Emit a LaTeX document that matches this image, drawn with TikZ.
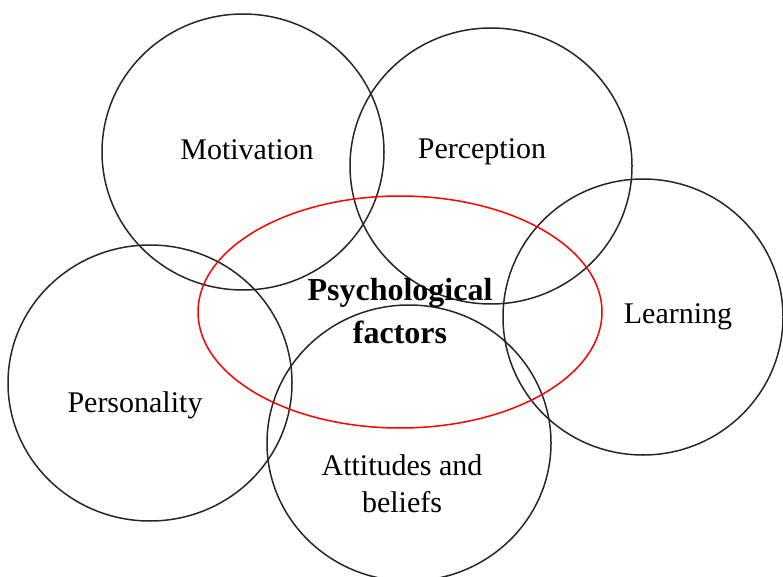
\documentclass[tikz,border=0pt]{standalone}
\usepackage{fontspec}
\setmainfont{Liberation Serif}
\begin{document}
\begin{tikzpicture}[x=1pt,y=-1pt,
  ring/.style={draw=black!85, line width=1.5pt},
  core/.style={draw=red, line width=1.5pt},
  label/.style={font=\fontsize{30}{37}\selectfont, inner sep=0pt, align=center, anchor=base},
  title/.style={font=\fontsize{32}{43}\selectfont\bfseries, inner sep=0pt, align=center, anchor=base}]
\useasboundingbox (0,0) rectangle (783,577);

% surrounding factor circles
\coordinate (cMot) at (243,152);
\coordinate (cPer) at (491,166);
\coordinate (cLea) at (643,317);
\coordinate (cPrs) at (150,383);
\coordinate (cAtt) at (409,443);
\coordinate (cPsy) at (400,312);

\draw[ring] (cMot) ellipse [x radius=141pt, y radius=138pt];
\draw[ring] (cPer) ellipse [x radius=141pt, y radius=138pt];
\draw[ring] (cLea) ellipse [x radius=140pt, y radius=138pt];
\draw[ring] (cPrs) ellipse [x radius=142pt, y radius=138pt];
\draw[ring] (cAtt) ellipse [x radius=142pt, y radius=138pt];

% central ellipse
\draw[core] (cPsy) ellipse [x radius=202pt, y radius=116pt];

% labels (base anchor of two-line labels sits on the last line)
\node[label] (tMot) at (247,160) {Motivation};
\node[label] (tPer) at (482,159) {Perception};
\node[label] (tLea) at (678,323) {Learning};
\node[label] (tPrs) at (135,412) {Personality};
\node[label] (tAtt) at (402,512) {Attitudes and\\beliefs};
\node[title] (tPsy) at (400,343) {Psychological\\factors};
\end{tikzpicture}
\end{document}
